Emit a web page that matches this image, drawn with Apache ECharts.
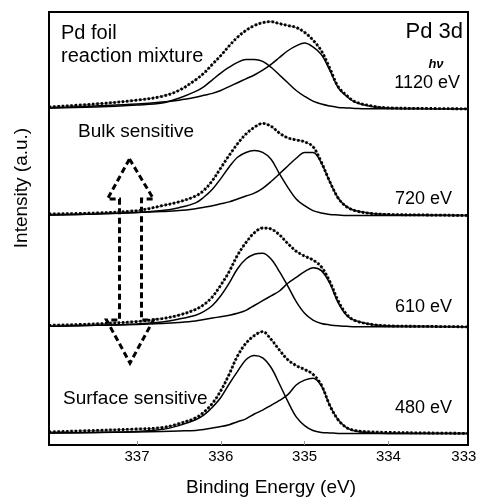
<!DOCTYPE html>
<html><head><meta charset="utf-8">
<script src="https://cdn.jsdelivr.net/npm/echarts@6/dist/echarts.min.js"></script>
<style>html,body{margin:0;padding:0;background:#fff}#c{width:481px;height:502px}</style>
</head><body><div id="c"></div>
<script>
// Binding energy sample points (eV)
const bindingEnergy = [338.05, 337.5, 337.0, 336.7, 336.5, 336.3, 336.2, 336.1, 336.0, 335.9, 335.8, 335.7, 335.6, 335.5, 335.4, 335.3, 335.2, 335.1, 335.0, 334.9, 334.8, 334.7, 334.6, 334.5, 334.4, 334.2, 334.0, 333.6, 333.05];

// hv = 1120 eV
const comp1_1120 = [1, 2, 4, 6, 11, 18, 23, 30, 37, 43, 48, 51, 51, 49, 43, 35, 27, 19, 13, 8, 5, 3, 1.5, 1, 0.5, 0, 0, 0, 0];
const comp2_1120 = [1, 3, 5, 7, 9, 12, 14, 16, 19, 23, 27, 31, 35, 40, 46, 53, 60, 65, 68, 64, 56, 40, 22, 13, 7, 2.5, 1, 0.3, 0];
const meas_1120  = [2, 5, 9, 13, 19, 30, 37, 46, 55, 65, 74, 81, 86, 89, 90, 88, 86, 84, 79, 71, 60, 42, 23, 14, 7.5, 3, 1, 0.5, 0];
// hv = 720 eV
const comp1_720 = [0.5, 1.5, 3, 5, 8, 13, 19, 27, 38, 50, 60, 65, 67, 65, 58, 43, 29, 17, 10, 5, 2.5, 1, 0.5, 0, 0, 0, 0, 0, 0];
const comp2_720 = [0.5, 1.5, 3, 4, 5, 7, 8.5, 10, 12, 14, 17, 20, 23, 28, 35, 43, 51, 59, 65, 65, 54, 35, 18, 9, 5, 2, 1, 0.5, 0];
const meas_720  = [1.5, 2.5, 5, 10, 14, 20, 26, 36, 49, 62, 74, 84, 91, 95, 92, 85, 80, 78, 76, 71, 55, 35, 18, 9, 5, 2, 1, 0.5, 0];
// hv = 610 eV
const comp1_610 = [0.5, 1.5, 3, 5, 8, 12, 16, 22, 32, 45, 60, 70, 75, 76, 70, 57, 42, 26, 14, 7, 3.5, 2, 1, 0.5, 0, 0, 0, 0, 0];
const comp2_610 = [0.5, 1.5, 2.5, 3.5, 4.5, 6, 7.5, 9, 10.5, 12, 14, 17, 22, 27, 32, 37, 45, 51, 57, 61, 58, 45, 25, 12, 6.5, 2.5, 1, 0.5, 0];
const meas_610  = [1.5, 3, 5.5, 8.5, 12, 18, 23, 31, 43, 57, 74, 87, 97, 102, 101, 95, 86, 78, 73, 69, 62, 47, 27, 13, 6.5, 2.5, 1, 0.5, 0];
// hv = 480 eV
const comp1_480 = [0.3, 1, 2, 4, 8, 14, 19, 27, 37, 51, 64, 76, 80.5, 78, 68, 51, 33, 17, 8, 3, 1, 0.5, 0, 0, 0, 0, 0, 0, 0];
const comp2_480 = [0.3, 1, 1.5, 2, 2.5, 3, 4, 5.5, 7, 9, 12, 15, 20, 24, 29, 34, 40, 50, 55, 57, 49, 29, 14, 6, 2.5, 0.5, 0, 0, 0];
const meas_480  = [1.5, 3, 4.5, 6, 10, 16, 22, 31, 44, 61, 80, 93, 101, 105, 97, 86, 76, 70, 66, 61, 50, 29, 14, 6, 3, 1.5, 1, 0.5, 0];

const photonEnergies = ['1120 eV', '720 eV', '610 eV', '480 eV'];
const stackOffsets = [347, 237, 122, 12];
const xTickValues = [334, 335, 336, 337];
const xLabelValues = [333.1, 334, 335, 336, 337];

const panels = [
  [comp1_1120, comp2_1120, meas_1120],
  [comp1_720, comp2_720, meas_720],
  [comp1_610, comp2_610, meas_610],
  [comp1_480, comp2_480, meas_480]
];

const FONT = '"Liberation Sans", Arial, sans-serif';
const series = [];
panels.forEach((p, i) => {
  const off = stackOffsets[i];
  const toData = arr => arr.map((v, k) => [bindingEnergy[k], v + off]);
  [p[0], p[1]].forEach(c => series.push({
    type: 'line', data: toData(c), smooth: 0.35, symbol: 'none', silent: true,
    lineStyle: {color: '#000', width: 1.5}
  }));
  series.push({
    type: 'line', data: toData(p[2]), smooth: 0.35, symbol: 'none', silent: true,
    lineStyle: {color: '#333', width: 0.8}
  });
  series.push({
    type: 'line', data: toData(p[2]), smooth: 0.35, symbol: 'none', silent: true,
    lineStyle: {color: '#000', width: 2.8, type: [2.4, 1.9], cap: 'butt'}
  });
});

const txt = (text, x, y, size, align, extra) => Object.assign({
  type: 'text', x: x, y: y, silent: true,
  style: {text: text, font: size + 'px ' + FONT, fill: '#000', align: align, verticalAlign: 'middle'}
}, extra || {});

const chart = echarts.init(document.getElementById('c'), null, {renderer: 'canvas'});
chart.setOption({
  backgroundColor: '#fff',
  animation: false,
  grid: {left: 49, right: 13, top: 12, bottom: 43, show: true, borderColor: '#000', borderWidth: 2, backgroundColor: 'transparent'},
  xAxis: {
    type: 'value', inverse: true, min: 333.05, max: 338.05,
    axisLine: {show: false},
    splitLine: {show: false},
    axisTick: {show: true, inside: true, length: 4, lineStyle: {color: '#999', width: 1}, customValues: xTickValues},
    axisLabel: {show: true, customValues: xLabelValues, margin: 4, color: '#000', fontSize: 15, fontFamily: FONT,
      formatter: v => String(Math.round(v))},
    name: 'Binding Energy (eV)', nameLocation: 'middle', nameGap: 33,
    nameTextStyle: {fontSize: 19, fontFamily: FONT, color: '#000', padding: [0, 0, 0, 25]}
  },
  yAxis: {
    type: 'value', min: 0, max: 447,
    axisLine: {show: false}, axisTick: {show: false}, axisLabel: {show: false}, splitLine: {show: false}
  },
  series: series,
  graphic: [
    txt('Pd foil', 61, 33, 20, 'left'),
    txt('reaction mixture', 61, 56, 20, 'left'),
    txt('Pd 3d', 463, 32, 22, 'right'),
    {type: 'text', x: 436, y: 64, silent: true,
      style: {text: 'hν', font: 'italic bold 13px ' + FONT, fill: '#000', align: 'center', verticalAlign: 'middle'}},
    txt(photonEnergies[0], 460, 83, 18, 'right'),
    txt('Bulk sensitive', 78, 132, 19, 'left'),
    txt(photonEnergies[1], 452, 199, 18, 'right'),
    txt(photonEnergies[2], 452, 307, 18, 'right'),
    txt('Surface sensitive', 63, 399, 19, 'left'),
    txt(photonEnergies[3], 452, 408, 18, 'right'),
    txt('Intensity (a.u.)', 22, 188, 19, 'center', {rotation: Math.PI / 2}),
    {type: 'polygon', silent: true,
      shape: {points: [[129.5, 159], [153.5, 199], [141.5, 199], [141.5, 320], [153.5, 320], [130, 363],
                       [106.5, 320], [119.5, 320], [119.5, 199], [107.5, 199]]},
      style: {fill: 'none', stroke: '#000', lineWidth: 3, lineDash: [6, 3.5]}}
  ]
});
</script>
</body></html>
